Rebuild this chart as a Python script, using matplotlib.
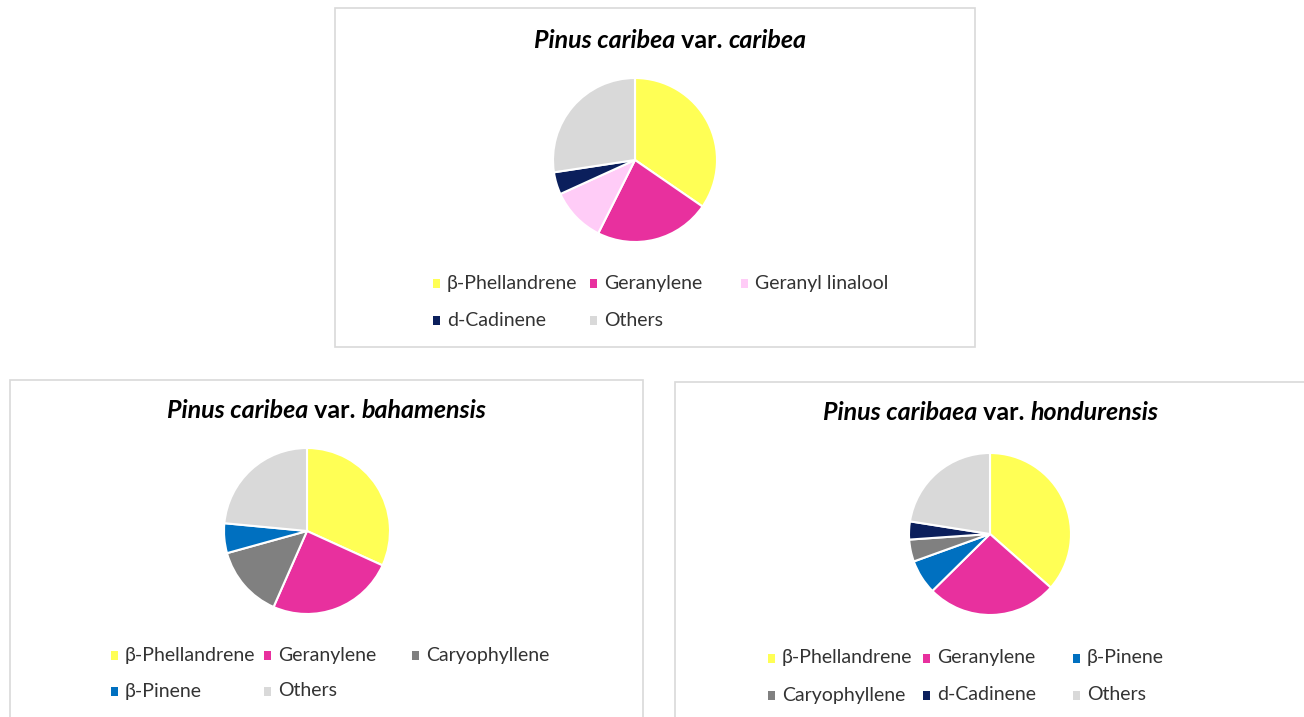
import matplotlib
matplotlib.use("Agg")
import matplotlib.pyplot as plt
from matplotlib.patches import Rectangle

W, H = 1304, 717

# --- data (percent) ---
caribea_labels = ["β-Phellandrene", "Geranylene", "Geranyl linalool", "d-Cadinene", "Others"]
caribea_values = [34.6, 22.8, 10.8, 4.4, 27.4]

bahamensis_labels = ["β-Phellandrene", "Geranylene", "Caryophyllene", "β-Pinene", "Others"]
bahamensis_values = [31.8, 24.8, 14.1, 5.8, 23.5]

hondurensis_labels = ["β-Phellandrene", "Geranylene", "β-Pinene", "Caryophyllene", "d-Cadinene", "Others"]
hondurensis_values = [36.5, 26.1, 6.9, 4.4, 3.6, 22.5]

COLORS = {
    "β-Phellandrene": "#FFFF55",
    "Geranylene": "#E8309E",
    "Geranyl linalool": "#FFCCF7",
    "d-Cadinene": "#0B1F5C",
    "Others": "#D9D9D9",
    "Caryophyllene": "#808080",
    "β-Pinene": "#0070C0",
}

FONT = "Lato"


def fx(px):
    return px / W


def fy(py):
    return 1 - py / H


def draw_title(fig, cx, cy, parts, size=18):
    r = fig.canvas.get_renderer()
    texts = []
    for s, style in parts:
        t = fig.text(0, fy(cy), s, fontsize=size, fontweight="bold", fontstyle=style,
                     family=FONT, ha="left", va="center")
        texts.append(t)
    widths = [t.get_window_extent(r).width for t in texts]
    x = cx - sum(widths) / 2
    for t, w in zip(texts, widths):
        t.set_x(fx(x))
        x += w


def draw_panel(fig, box, title, title_c, labels, values, pie_c, radius, cols, rows):
    x0, y0, x1, y1 = box
    fig.patches.append(Rectangle((fx(x0), fy(y1)), fx(x1) - fx(x0), fy(y0) - fy(y1),
                                 transform=fig.transFigure, fill=False,
                                 edgecolor="#D9D9D9", linewidth=1.2))
    draw_title(fig, title_c[0], title_c[1], title)

    cx, cy = pie_c
    ax = fig.add_axes([fx(cx - radius), fy(cy + radius), 2 * radius / W, 2 * radius / H])
    ax.pie(values, colors=[COLORS[l] for l in labels], startangle=90, counterclock=False,
           wedgeprops=dict(edgecolor="white", linewidth=1.5))
    ax.set_xlim(-1, 1)
    ax.set_ylim(-1, 1)
    ax.axis("off")

    # excel-style legend, row-major, fixed column offsets
    for i, lab in enumerate(labels):
        px = cols[i % len(cols)]
        py = rows[i // len(cols)]
        fig.patches.append(Rectangle((fx(px), fy(py + 5)), 7 / W, 9 / H, transform=fig.transFigure,
                                     facecolor=COLORS[lab], edgecolor="none"))
        fig.text(fx(px + 14), fy(py), lab, fontsize=14, family=FONT, color="#333333",
                 ha="left", va="center")


fig = plt.figure(figsize=(W / 100, H / 100), dpi=100)

draw_panel(fig, (335, 8, 975, 347),
           [("Pinus caribea", "italic"), (" var. ", "normal"), ("caribea", "italic")], (670, 40),
           caribea_labels, caribea_values, (635, 160), 82,
           [433, 590, 741], [283, 320])

draw_panel(fig, (10, 380, 643, 720),
           [("Pinus caribea", "italic"), (" var. ", "normal"), ("bahamensis", "italic")], (327, 411),
           bahamensis_labels, bahamensis_values, (307, 531), 83,
           [111, 264, 412], [655, 691])

draw_panel(fig, (675, 382, 1308, 720),
           [("Pinus caribaea", "italic"), (" var. ", "normal"), ("hondurensis", "italic")], (991, 413),
           hondurensis_labels, hondurensis_values, (990, 534), 81,
           [768, 923, 1073], [658, 695])

fig.savefig("out.png", dpi=100)
